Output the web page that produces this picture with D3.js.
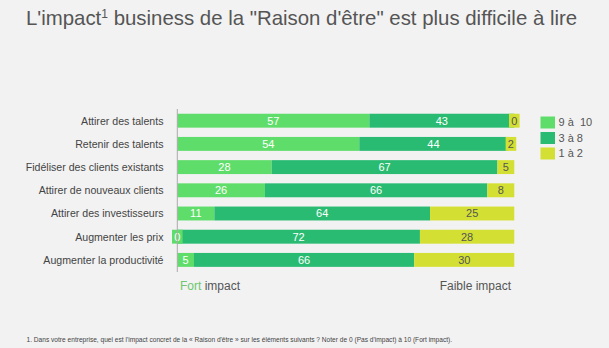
<!DOCTYPE html>
<html><head><meta charset="utf-8">
<script src="https://cdn.jsdelivr.net/npm/d3@7"></script>
<style>
body{margin:0;background:#f2f2f2;}
svg{display:block;font-family:"Liberation Sans",Arial,sans-serif;}
text{white-space:pre;}
</style></head><body>
<svg id="c" width="609" height="348"></svg>
<script>
const categories = ["Attirer des talents","Retenir des talents","Fidéliser des clients existants","Attirer de nouveaux clients","Attirer des investisseurs","Augmenter les prix","Augmenter la productivité"];
const series = ["9 à  10","3 à 8","1 à 2"];
const high = [57,54,28,26,11,0,5];
const mid = [43,44,67,66,64,72,66];
const low = [0,2,5,8,25,28,30];
const colors = ["#5fdd6a","#2abb72","#d3e033"];
const labelColors = ["#ffffff","#ffffff","#555555"];

const svg = d3.select("#c");
svg.append("rect").attr("width",609).attr("height",348).attr("fill","#f2f2f2");

const x = d3.scaleLinear().domain([0,1]).range([177.3,514.3]);
const y = d3.scaleBand().domain(categories).range([109.1,271.5]).paddingInner(0.4).paddingOuter(0.2);

const rows = categories.map((c,i)=>({cat:c, vals:[high[i],mid[i],low[i]]}));

// title
const t = svg.append("text").attr("x",26).attr("y",25).attr("fill","#555").attr("font-size",20.4);
t.append("tspan").text("L'impact");
t.append("tspan").attr("font-size",12).attr("dy",-7).text("1");
t.append("tspan").attr("dy",7).text(" business de la \"Raison d'être\" est plus difficile à lire");

rows.forEach(r=>{
  const tot = d3.sum(r.vals);
  let acc = 0;
  const g = svg.append("g");
  const segs = r.vals.map((v,k)=>{ const s={v,k,x0:acc/tot,x1:(acc+v)/tot}; acc+=v; return s;});
  const order = segs.filter(s=>s.v>0).concat(segs.filter(s=>s.v===0));
  order.forEach(s=>{
    let px0 = x(s.x0), px1 = x(s.x1);
    if (s.v===0) { const cx=px0; px0=cx-5.3; px1=cx+5.3; }
    else if (px1-px0<10.6) { const cx=(px0+px1)/2; px0=cx-5.3; px1=cx+5.3; }
    g.append("rect").attr("x",px0).attr("y",y(r.cat)).attr("width",px1-px0).attr("height",y.bandwidth()).attr("fill",colors[s.k]);
    g.append("text").attr("x",(px0+px1)/2).attr("y",y(r.cat)+y.bandwidth()/2).attr("dy","0.36em")
      .attr("text-anchor","middle").attr("font-size",11).attr("fill",labelColors[s.k]).text(s.v);
  });
  svg.append("text").attr("x",163.5).attr("y",y(r.cat)+y.bandwidth()/2).attr("dy","0.36em")
    .attr("text-anchor","end").attr("font-size",10.6).attr("fill","#444").text(r.cat);
});

svg.append("line").attr("x1",177.3).attr("x2",177.3).attr("y1",109).attr("y2",272).attr("stroke","#aaa").attr("stroke-width",1);

series.forEach((s,k)=>{
  svg.append("rect").attr("x",540.5).attr("y",116.5+k*15.5).attr("width",14.5).attr("height",12).attr("fill",colors[k]);
  svg.append("text").attr("x",558.5).attr("y",122.5+k*15.5).attr("dy","0.36em").attr("font-size",11).attr("fill","#555").text(s);
});

const f = svg.append("text").attr("x",180).attr("y",286).attr("dy","0.36em").attr("font-size",12);
f.append("tspan").attr("fill","#6cc76f").text("Fort");
f.append("tspan").attr("fill","#555").text(" impact");
svg.append("text").attr("x",511).attr("y",286).attr("dy","0.36em").attr("text-anchor","end").attr("font-size",12).attr("fill","#555").text("Faible impact");

svg.append("text").attr("x",26.5).attr("y",339.5).attr("dy","0.36em").attr("font-size",6.6).attr("fill","#444")
  .text("1. Dans votre entreprise, quel est l'impact concret de la « Raison d'être » sur les éléments suivants ? Noter de 0 (Pas d'impact) à 10 (Fort impact).");
</script>
</body></html>
